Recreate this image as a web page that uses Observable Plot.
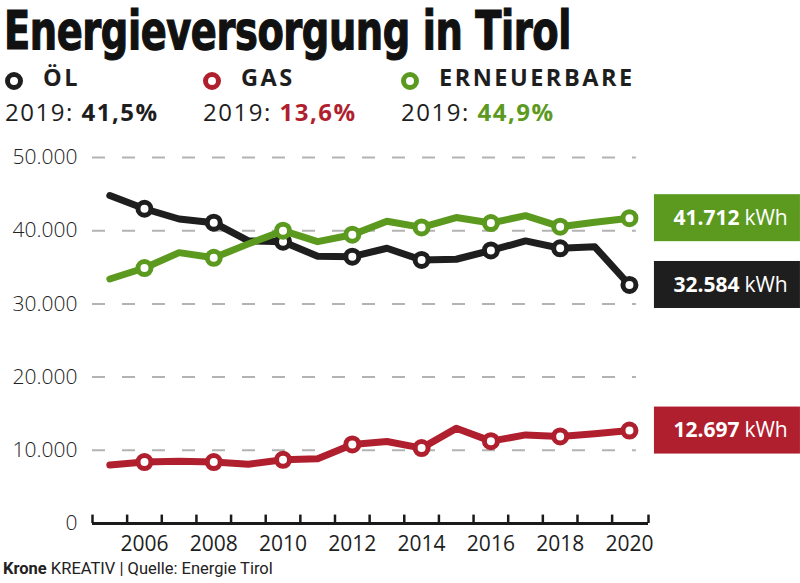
<!DOCTYPE html>
<html>
<head>
<meta charset="utf-8">
<script src="https://cdn.jsdelivr.net/npm/d3@7"></script>
<script src="https://cdn.jsdelivr.net/npm/@observablehq/plot@0.6"></script>
<style>
  html, body { margin: 0; padding: 0; background: #fff; }
  body { width: 800px; height: 583px; position: relative; font-family: "Open Sans", sans-serif; color: #1e1e1e; }
  #title { position: absolute; left: 4px; top: 2px; font-family: "Liberation Sans Narrow", "DejaVu Sans Condensed", sans-serif; font-weight: bold; font-size: 53px; line-height: 58px; white-space: nowrap; transform-origin: 0 0; -webkit-text-stroke: 1.2px #111; color: #111; letter-spacing: -0.5px; }
  .leg { position: absolute; top: 62px; height: 30px; white-space: nowrap; }
  .ring { position: absolute; left: 0; top: 10px; width: 8px; height: 8px; border: 5px solid; border-radius: 50%; }
  .leglab { position: absolute; left: 38px; top: 0; font-weight: 700; font-size: 23.5px; line-height: 30px; letter-spacing: 2.5px; color: #1e1e1e; }
  .pct { position: absolute; top: 96px; font-size: 24px; line-height: 32px; letter-spacing: 1.5px; white-space: nowrap; color: #1e1e1e; }
  .pct b { font-weight: 700; }
  #chart { position: absolute; left: 0; top: 140px; }
  #footer { position: absolute; left: 3px; top: 559px; font-family: Roboto, "Open Sans", sans-serif; font-size: 16.5px; line-height: 20px; color: #222; white-space: nowrap; }
</style>
</head>
<body>
<div id="title">Energieversorgung in Tirol</div>
<div id="legend"></div>
<div id="chart"></div>
<div id="footer"><b>Krone</b> KREATIV | Quelle: Energie Tirol</div>
<script>
// ---- data ----
const years = [2005, 2006, 2007, 2008, 2009, 2010, 2011, 2012, 2013, 2014, 2015, 2016, 2017, 2018, 2019, 2020];
const oel = [44800, 43000, 41600, 41100, 38600, 38500, 36500, 36450, 37600, 36000, 36100, 37300, 38600, 37600, 37800, 32584];
const gas = [8000, 8400, 8500, 8400, 8100, 8700, 8850, 10800, 11200, 10300, 13000, 11250, 12100, 11900, 12250, 12697];
const erneuerbare = [33400, 34900, 37000, 36300, 38200, 40000, 38500, 39450, 41300, 40450, 41800, 41050, 42050, 40550, 41150, 41712];

const seriesNames = ["ÖL", "GAS", "ERNEUERBARE"];
const seriesColors = ["#1e1e1e", "#b01f2e", "#5c9a1f"];
const share2019 = ["41,5%", "13,6%", "44,9%"];
const endLabels = ["41.712", "32.584", "12.697"];
const endSeries = ["ERNEUERBARE", "ÖL", "GAS"];

const yTickValues = [0, 10000, 20000, 30000, 40000, 50000];
const yTickLabels = ["0", "10.000", "20.000", "30.000", "40.000", "50.000"];
const xLabelYears = [2006, 2008, 2010, 2012, 2014, 2016, 2018, 2020];
const xTickPositions = [2004.5, 2005.5, 2006.5, 2007.5, 2008.5, 2009.5, 2010.5, 2011.5, 2012.5, 2013.5, 2014.5, 2015.5, 2016.5, 2017.5, 2018.5, 2019.5, 2020.55];
const xDomain = [2004.5, 2020.55];
const gridEnd = 2020.2;

// ---- header ----
const legend = document.getElementById("legend");
const legX = [5, 203, 401];
seriesNames.forEach((name, i) => {
  const g = document.createElement("div");
  g.className = "leg";
  g.style.left = legX[i] + "px";
  g.innerHTML = `<div class="ring" style="border-color:${seriesColors[i]}"></div><div class="leglab">${name}</div>`;
  legend.appendChild(g);
  const p = document.createElement("div");
  p.className = "pct";
  p.style.left = legX[i] + "px";
  p.innerHTML = `2019: <b style="color:${seriesColors[i]}">${share2019[i]}</b>`;
  legend.appendChild(p);
});
const title = document.getElementById("title");
const tw = title.getBoundingClientRect().width;
title.style.transform = `scaleX(${567 / tw})`;

// ---- chart ----
const seriesValues = [oel, gas, erneuerbare];
const rows = seriesNames.flatMap((s, k) => years.map((y, i) => ({year: y, value: seriesValues[k][i], series: s})));
const ends = endSeries.map((s, i) => {
  const k = seriesNames.indexOf(s);
  return {series: s, year: years[years.length - 1], value: seriesValues[k][years.length - 1], label: endLabels[i]};
});

const marks = [
  Plot.ruleY(yTickValues.filter(d => d > 0), {x1: xDomain[0], x2: gridEnd, y: d => d, stroke: "#b3b3b3", strokeWidth: 2, strokeDasharray: "13,17"}),
  Plot.text(yTickValues, {x: xDomain[0], y: d => d, text: (d, i) => yTickLabels[i], textAnchor: "end", dx: -15, fontSize: 21, fill: "#222", fontWeight: 300}),
  Plot.ruleY([0], {x1: xDomain[0], x2: xDomain[1], y: d => d, stroke: "#1a1a1a", strokeWidth: 3}),
  Plot.ruleX(xTickPositions, {x: d => d, y1: 0, y2: 1150, stroke: "#1a1a1a", strokeWidth: 2.5}),
  Plot.text(xLabelYears, {x: d => d, y: 0, text: d => String(d), dy: 21, fontSize: 21, fill: "#1e1e1e"})
];
seriesNames.forEach((s) => {
  const data = rows.filter(d => d.series === s);
  marks.push(Plot.line(data, {x: "year", y: "value", stroke: "series", strokeWidth: 7, strokeLinejoin: "round", strokeLinecap: "round"}));
  marks.push(Plot.dot(data.filter(d => d.year % 2 === 0), {x: "year", y: "value", r: 6.5, fill: "white", stroke: "series", strokeWidth: 5}));
});
marks.push(
  Plot.rect(ends, {x1: "year", x2: "year", y1: "value", y2: "value", fill: "series", insetLeft: 25, insetRight: -171, insetTop: -23.5, insetBottom: -23.5}),
  Plot.text(ends, {x: "year", y: "value", text: "label", textAnchor: "end", dx: 110, fill: "white", fontWeight: "bold", fontSize: 21, letterSpacing: 0.5}),
  Plot.text(ends, {x: "year", y: "value", text: () => "kWh", textAnchor: "start", dx: 115, fill: "white", fontSize: 21})
);

const chart = Plot.plot({
  width: 800,
  height: 420,
  marginTop: 17,
  marginBottom: 37,
  marginLeft: 92,
  marginRight: 152,
  x: {domain: xDomain, axis: null},
  y: {domain: [0, 50000], axis: null},
  color: {domain: seriesNames, range: seriesColors},
  style: {fontFamily: "'Open Sans', sans-serif", background: "white", overflow: "visible"},
  marks
});
document.getElementById("chart").appendChild(chart);
</script>
</body>
</html>
